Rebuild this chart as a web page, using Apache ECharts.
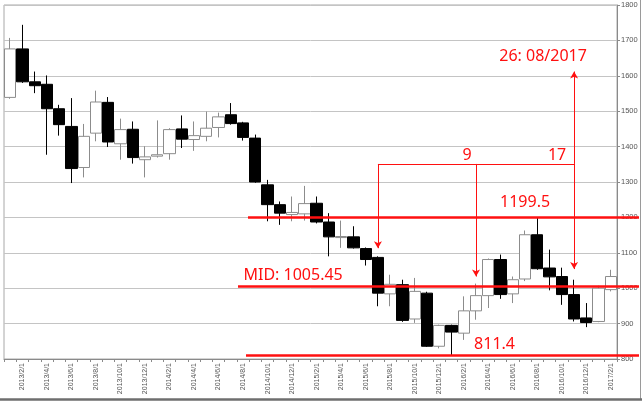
<!DOCTYPE html>
<html>
<head>
<meta charset="utf-8">
<script src="https://cdn.jsdelivr.net/npm/echarts@6/dist/echarts.min.js"></script>
<style>
html,body{margin:0;padding:0;background:#fff;}
#chart{width:644px;height:403px;}
</style>
</head>
<body>
<div id="chart"></div>
<script>
// ---- data ----
const categories = [
  '2013/1/1','2013/2/1','2013/3/1','2013/4/1','2013/5/1','2013/6/1','2013/7/1','2013/8/1','2013/9/1','2013/10/1','2013/11/1','2013/12/1',
  '2014/1/1','2014/2/1','2014/3/1','2014/4/1','2014/5/1','2014/6/1','2014/7/1','2014/8/1','2014/9/1','2014/10/1','2014/11/1','2014/12/1',
  '2015/1/1','2015/2/1','2015/3/1','2015/4/1','2015/5/1','2015/6/1','2015/7/1','2015/8/1','2015/9/1','2015/10/1','2015/11/1','2015/12/1',
  '2016/1/1','2016/2/1','2016/3/1','2016/4/1','2016/5/1','2016/6/1','2016/7/1','2016/8/1','2016/9/1','2016/10/1','2016/11/1','2016/12/1',
  '2017/1/1','2017/2/1'
];
const openValues = [
  1539,1676,1583,1576,1507,1457,1341,1438,1525,1408,1449,1363,
  1373,1380,1450,1420,1429,1454,1490,1467,1424,1292,1236,1208,
  1210,1240,1187,1143,1145,1112,1087,984,1010,913,986,836,
  895,873,936,979,1081,984,1026,1151,1057,1033,982,916,
  906,996
];
const closeValues = [
  1676,1583,1572,1507,1462,1338,1429,1526,1413,1448,1369,1371,
  1377,1448,1421,1431,1452,1484,1465,1426,1300,1236,1212,1214,
  1239,1187,1145,1146,1114,1081,986,1011,909,991,836,895,
  876,936,979,1081,982,1024,1151,1055,1032,982,913,903,
  1000,1033
];
const lowValues = [
  1535,1580,1551,1377,1431,1297,1313,1415,1399,1363,1352,1313,
  1369,1363,1396,1388,1415,1426,1462,1417,1298,1189,1179,1189,
  1191,1183,1090,1114,1112,1064,949,949,905,902,834,830,
  811.4,854,911,944,970,958,1020,1052,994,953,906,890,
  904,991
];
const highValues = [
  1707,1744,1612,1601,1518,1537,1464,1558,1540,1479,1471,1401,
  1474,1452,1488,1471,1499,1496,1523,1470,1434,1306,1245,1259,
  1289,1259,1212,1191,1175,1115,1090,1038,1024,1029,990,897,
  897,977,1013,1084,1095,1033,1163,1199.5,1109,1058,1024,958,
  1007,1052
];
const yTicks = {min: 800, max: 1800, step: 100};
const levelHigh = 1199.5;
const levelMid = 1005.45;
const levelLow = 811.4;
const bracketLevel = 1351;
const bracketCats = ['2015/7/1', '2016/3/1', '2016/11/1'];
const arrowTips = [1113, 1033, 1054];
const upArrowTip = 1612;
const annoText = {high: '1199.5', mid: 'MID: 1005.45', low: '811.4', a: '9', b: '17', c: '26: 08/2017'};

// ---- chart ----
const ohlc = categories.map((c, i) => [openValues[i], closeValues[i], lowValues[i], highValues[i]]);
const RED = '#ff1010';
const chart = echarts.init(document.getElementById('chart'), null, {renderer: 'canvas'});

const redLabel = (extra) => Object.assign({
  show: true, color: RED, fontSize: 16, fontFamily: 'Noto Sans', position: 'inside'
}, extra);

const option = {
  animation: false,
  backgroundColor: '#ffffff',
  grid: {left: 4, right: 27, top: 5, bottom: 44, show: true, borderColor: '#a8a8a8', borderWidth: 1},
  xAxis: {
    type: 'category',
    data: categories,
    boundaryGap: true,
    axisLine: {lineStyle: {color: '#8a8a8a', width: 1}},
    axisTick: {show: true, interval: 0, length: 3, lineStyle: {color: '#8a8a8a'}},
    axisLabel: {
      interval: (i) => i % 2 === 1,
      rotate: 90, fontSize: 7, color: '#555', margin: 4, fontFamily: 'Liberation Sans'
    },
    splitLine: {show: false}
  },
  yAxis: {
    type: 'value',
    position: 'right',
    min: yTicks.min, max: yTicks.max, interval: yTicks.step,
    axisLine: {show: true, lineStyle: {color: '#8a8a8a', width: 1}},
    axisTick: {show: true, length: 3, lineStyle: {color: '#8a8a8a'}},
    axisLabel: {fontSize: 7.5, color: '#555', margin: 4, fontFamily: 'Liberation Sans', formatter: (v) => String(v)},
    splitLine: {show: true, lineStyle: {color: '#c4c4c4', width: 1}}
  },
  series: [{
    type: 'candlestick',
    data: ohlc,
    barWidth: '96%',
    itemStyle: {
      color: '#ffffff', color0: '#000000',
      borderColor: '#8c8c8c', borderColor0: '#000000', borderWidth: 1
    },
    markLine: {
      silent: true,
      animation: false,
      symbol: ['none', 'arrow'],
      symbolSize: [6, 7],
      label: {show: false},
      emphasis: {disabled: true},
      data: [
        [{coord: ['2014/9/1', levelHigh], x: 248, symbol: 'none', lineStyle: {color: RED, width: 2.5, type: 'solid'}},
         {coord: ['2017/2/1', levelHigh], x: 639, symbol: 'none'}],
        [{coord: ['2014/8/1', levelMid], x: 238, symbol: 'none', lineStyle: {color: RED, width: 2.5, type: 'solid'}},
         {coord: ['2017/2/1', levelMid], x: 639, symbol: 'none'}],
        [{coord: ['2014/8/1', levelLow], x: 246, symbol: 'none', lineStyle: {color: RED, width: 2.5, type: 'solid'}},
         {coord: ['2017/2/1', levelLow], x: 639, symbol: 'none'}],
        [{coord: [bracketCats[0], bracketLevel], symbol: 'none', lineStyle: {color: RED, width: 1, type: 'solid'}},
         {coord: [bracketCats[2], bracketLevel], symbol: 'none'}],
        [{coord: [bracketCats[0], bracketLevel], lineStyle: {color: RED, width: 1, type: 'solid'}},
         {coord: [bracketCats[0], arrowTips[0]]}],
        [{coord: [bracketCats[1], bracketLevel], lineStyle: {color: RED, width: 1, type: 'solid'}},
         {coord: [bracketCats[1], arrowTips[1]]}],
        [{coord: [bracketCats[2], bracketLevel], lineStyle: {color: RED, width: 1, type: 'solid'}},
         {coord: [bracketCats[2], arrowTips[2]]}],
        [{coord: [bracketCats[2], bracketLevel], lineStyle: {color: RED, width: 1, type: 'solid'}},
         {coord: [bracketCats[2], upArrowTip]}]
      ]
    },
    markPoint: {
      silent: true,
      animation: false,
      symbol: 'circle',
      symbolSize: 0,
      itemStyle: {color: 'transparent'},
      data: [
        {coord: ['2016/7/1', levelHigh], label: redLabel({formatter: annoText.high, offset: [0, -15]})},
        {coord: ['2014/12/1', levelMid], label: redLabel({formatter: annoText.mid, offset: [1, -11]})},
        {coord: ['2016/5/1', levelLow], label: redLabel({formatter: annoText.low, offset: [-6, -11]})},
        {coord: [bracketCats[1], bracketLevel], label: redLabel({formatter: annoText.a, offset: [-9, -9]})},
        {coord: [bracketCats[2], bracketLevel], label: redLabel({formatter: annoText.b, offset: [-17, -9]})},
        {coord: [bracketCats[2], upArrowTip], label: redLabel({formatter: annoText.c, offset: [-31, -15]})}
      ]
    }
  }],
  graphic: [
    {type: 'line', silent: true, shape: {x1: 640.5, y1: 0, x2: 640.5, y2: 399}, style: {stroke: '#9a9a9a', lineWidth: 1}},
    {type: 'line', silent: true, shape: {x1: 0, y1: 399.5, x2: 642, y2: 399.5}, style: {stroke: '#6e6e6e', lineWidth: 2.5}}
  ]
};
chart.setOption(option);
</script>
</body>
</html>
